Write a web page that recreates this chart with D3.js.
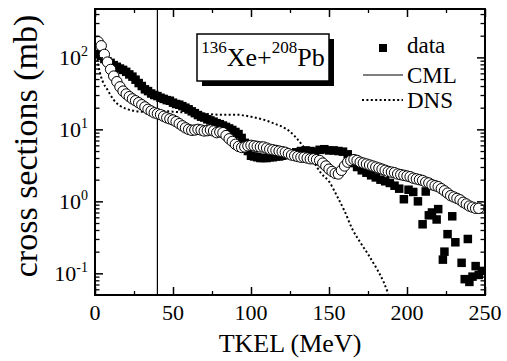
<!DOCTYPE html>
<html>
<head>
<meta charset="utf-8">
<script src="https://cdn.jsdelivr.net/npm/d3@7"></script>
<style>
  body { margin: 0; background: #fff; }
  #chart text, #chart tspan { font-family: "Liberation Serif", "Times New Roman", serif !important; }
</style>
</head>
<body>
<svg id="chart" width="507" height="361" xmlns="http://www.w3.org/2000/svg"></svg>
<script>
// axis ticks
const xTicks = [0, 50, 100, 150, 200, 250];
const xMinor = [25, 75, 125, 175, 225];
const yTicks = [0.1, 1, 10, 100];
const yExp = ["-1", "0", "1", "2"];

// measured data (filled squares)
const dataE = [2,4,6,8,10,12,14,16,18,20,22,24,26,28,30,32,34,36,38,40,42,44,46,48,50,52,54,56,58,60,62,64,66,68,70,72,74,76,78,80,82,84,86,88,90,92,94,96,98,100,102,104,106,108,110,112,114,116,118,120,123,126,129,132,135,138,141,144,147,150,153,156,159,162,165,168,171,174,177,180,183,186,189,192,195,198,201,204,207,210,212,214,216,219,220,223,224,226,229,231,235,237,239,240,242,244,246,248];
const dataSigma = [112,105,95,88,84,78,74,70,67,63,58,54,49,44,40,36,34,31.5,30,29,27.5,26.5,25.5,25,23.5,22.5,22,21,20,19,17.8,16.8,15.8,15,14.6,13.8,13.3,12.8,12.2,11.8,11.3,10.8,10.3,9.8,9.2,8.6,7.6,6.5,5.0,4.3,4.2,4.1,4.0,4.0,4.0,4.1,4.1,4.2,4.2,4.3,4.4,4.6,4.8,5.0,5.1,5.0,4.9,5.2,5.3,5.1,5.1,5.0,4.9,4.5,3.4,3.0,2.7,2.5,2.3,2.15,2.0,1.9,1.8,1.65,1.5,1.07,1.45,1.35,1.0,0.48,1.37,0.64,0.7,0.56,0.78,0.155,0.2,0.35,0.62,0.27,0.14,0.083,0.3,0.076,0.09,0.126,0.095,0.108];

// calculation (open circles)
const calcE = [2,4,6,8,10,12,14,16,18,20,22,24,26,28,30,32,34,36,38,40,42,44,46,48,50,52,54,56,58,60,62,64,66,68,70,72,74,76,78,80,82,84,86,88,90,92,94,96,98,100,102,104,106,108,110,112,114,116,118,120,122,124,126,128,130,132,134,136,138,140,142,144,146,148,150,152,154,156,158,160,162,164,166,168,170,172,174,176,178,180,182,184,186,188,190,192,194,196,198,200,202,204,206,208,210,212,214,216,218,220,222,224,226,228,230,232,234,236,238,240,242,244,246];
const calcSigma = [165,145,110,86,68,55,46,39,34,31,28.5,26.5,25,23.5,22,20.5,19,18,17,16.5,16,15.2,14.5,14,13.5,12.8,12,11.2,10.5,10,9.7,9.8,10,9.8,9.5,9.6,9.8,9.5,9.0,9.2,9.0,8.2,7.4,6.8,6.2,5.8,5.6,5.7,5.9,6.0,5.9,5.8,5.7,5.7,5.5,5.3,5.2,5.1,5.0,4.9,4.8,4.6,4.4,4.3,4.2,4.1,4.1,4.0,3.9,3.9,3.8,3.7,3.4,3.1,2.8,2.6,2.45,2.4,2.7,3.1,3.5,3.7,3.8,3.7,3.5,3.4,3.3,3.2,3.1,3.0,2.9,2.8,2.7,2.6,2.55,2.5,2.4,2.35,2.3,2.25,2.2,2.1,2.05,2.0,1.95,1.85,1.8,1.7,1.65,1.6,1.5,1.4,1.3,1.2,1.15,1.1,1.05,0.97,0.92,0.86,0.83,0.8,0.8];

// DNS curve (dotted)
const dnsE = [1,3,5,8,12,16,20,25,30,35,40,50,60,70,80,90,100,110,115,120,125,130,135,140,145,150,155,160,165,170,175,180,185,188];
const dnsSigma = [108,63,46,35.5,25.7,21.3,19.3,18.1,17.6,17.6,18.1,17.6,17,16.5,16,16,15,13.2,12,10.9,9.3,7.2,5.2,3.6,2.44,1.89,1.2,0.73,0.41,0.27,0.185,0.122,0.076,0.052];

// CML limit
const cmlE = 40;

const serif = "Liberation Serif";
const svg = d3.select("#chart").attr("font-family", serif);
const x = d3.scaleLinear().domain([0, 250]).range([95, 485]);
const y = d3.scaleLog().domain([0.05, 470]).range([295, 9]);

svg.append("defs").append("clipPath").attr("id", "plot")
  .append("rect").attr("x", 95).attr("y", 9).attr("width", 390).attr("height", 286);

const plot = svg.append("g").attr("clip-path", "url(#plot)");

// DNS dotted line
plot.append("path")
  .datum(dnsE.map((e, i) => [e, dnsSigma[i]]))
  .attr("fill", "none")
  .attr("stroke", "#000")
  .attr("stroke-width", 2)
  .attr("stroke-dasharray", "2,2.4")
  .attr("d", d3.line().curve(d3.curveMonotoneX).x(d => x(d[0])).y(d => y(d[1])));

// CML vertical line
plot.append("line")
  .attr("x1", x(cmlE)).attr("x2", x(cmlE))
  .attr("y1", 9).attr("y2", 295)
  .attr("stroke", "#000").attr("stroke-width", 1.2);

// squares
const sq = 8.5;
plot.selectAll("rect.data")
  .data(dataE.map((e, i) => [e, dataSigma[i]]))
  .enter().append("rect")
  .attr("class", "data")
  .attr("x", d => x(d[0]) - sq / 2)
  .attr("y", d => y(d[1]) - sq / 2)
  .attr("width", sq).attr("height", sq)
  .attr("fill", "#000");

// circles
plot.selectAll("circle.calc")
  .data(calcE.map((e, i) => [e, calcSigma[i]]))
  .enter().append("circle")
  .attr("class", "calc")
  .attr("cx", d => x(d[0]))
  .attr("cy", d => y(d[1]))
  .attr("r", 5.2)
  .attr("fill", "#fff")
  .attr("stroke", "#000")
  .attr("stroke-width", 1);

// minor y ticks
const yMinor = [];
[0.01, 0.1, 1, 10, 100].forEach(d => {
  for (let k = 2; k <= 9; k++) {
    const v = d * k;
    if (v > 0.05 && v < 470) yMinor.push(v);
  }
});

function tickAxis(axis, values, size) {
  return axis.tickValues(values).tickSize(-size).tickSizeOuter(0).tickFormat("");
}

// inward ticks on all four sides, text nodes dropped
const sides = [
  [() => d3.axisBottom(x), "translate(0,295)", xMinor, 4, xTicks],
  [() => d3.axisTop(x), "translate(0,9)", xMinor, 4, xTicks],
  [() => d3.axisLeft(y), "translate(95,0)", yMinor, 4.5, yTicks],
  [() => d3.axisRight(y), "translate(485,0)", yMinor, 4.5, yTicks]
];
sides.forEach(a => {
  [[a[2], a[3], 1.3], [a[4], 8, 1.5]].forEach(t => {
    const g = svg.append("g").attr("transform", a[1]).call(tickAxis(a[0](), t[0], t[1]));
    g.attr("font-family", null).attr("font-size", null);
    g.select(".domain").remove();
    g.selectAll("text").remove();
    g.selectAll("line").attr("stroke-width", t[2]);
  });
});

// frame
svg.append("rect")
  .attr("x", 95).attr("y", 9).attr("width", 390).attr("height", 286)
  .attr("fill", "none").attr("stroke", "#000").attr("stroke-width", 2);

function txt(parent, str, size) {
  const t = parent.append("text")
    .attr("font-family", serif)
    .style("font-family", serif)
    .attr("font-size", size);
  t.append("tspan").attr("font-family", serif).text(str);
  return t;
}

// x tick labels
xTicks.forEach(d => {
  txt(svg, d, 22).attr("x", x(d)).attr("y", 320).attr("text-anchor", "middle");
});

// y tick labels
yTicks.forEach((v, i) => {
  const t = txt(svg, "10", 22)
    .attr("x", 88).attr("y", y(v) + 8)
    .attr("text-anchor", "end");
  t.append("tspan").attr("font-family", serif).attr("dy", -9).attr("font-size", 14).text(yExp[i]);
});

// axis titles
txt(svg, "TKEL (MeV)", 26).attr("x", 290).attr("y", 352).attr("text-anchor", "middle");
txt(svg, "cross sections (mb)", 34)
  .attr("transform", "translate(37,146) rotate(-90)")
  .attr("text-anchor", "middle");

// reaction label box with shadow
svg.append("rect").attr("x", 202).attr("y", 39).attr("width", 132).attr("height", 47).attr("fill", "#000");
svg.append("rect").attr("x", 197).attr("y", 34).attr("width", 132).attr("height", 47)
  .attr("fill", "#fff").attr("stroke", "#000").attr("stroke-width", 1.5);
const lab = svg.append("text").attr("font-family", serif).style("font-family", serif)
  .attr("x", 263).attr("y", 66).attr("text-anchor", "middle").attr("font-size", 26);
lab.append("tspan").attr("font-size", 17).attr("dy", -13).text("136");
lab.append("tspan").attr("dy", 13).text("Xe+");
lab.append("tspan").attr("font-size", 17).attr("dy", -13).text("208");
lab.append("tspan").attr("dy", 13).text("Pb");

// legend
const legend = svg.append("g").attr("font-family", serif);
legend.append("rect").attr("x", 379).attr("y", 44).attr("width", 8).attr("height", 8).attr("fill", "#000");
legend.append("line").attr("x1", 363).attr("x2", 403).attr("y1", 75).attr("y2", 75)
  .attr("stroke", "#000").attr("stroke-width", 1.2);
legend.append("line").attr("x1", 362).attr("x2", 403).attr("y1", 100).attr("y2", 100)
  .attr("stroke", "#000").attr("stroke-width", 2).attr("stroke-dasharray", "2,2.4");
[["data", 53], ["CML", 83], ["DNS", 108]].forEach(l => {
  txt(legend, l[0], 23).attr("x", 407).attr("y", l[1]);
});
</script>
</body>
</html>
